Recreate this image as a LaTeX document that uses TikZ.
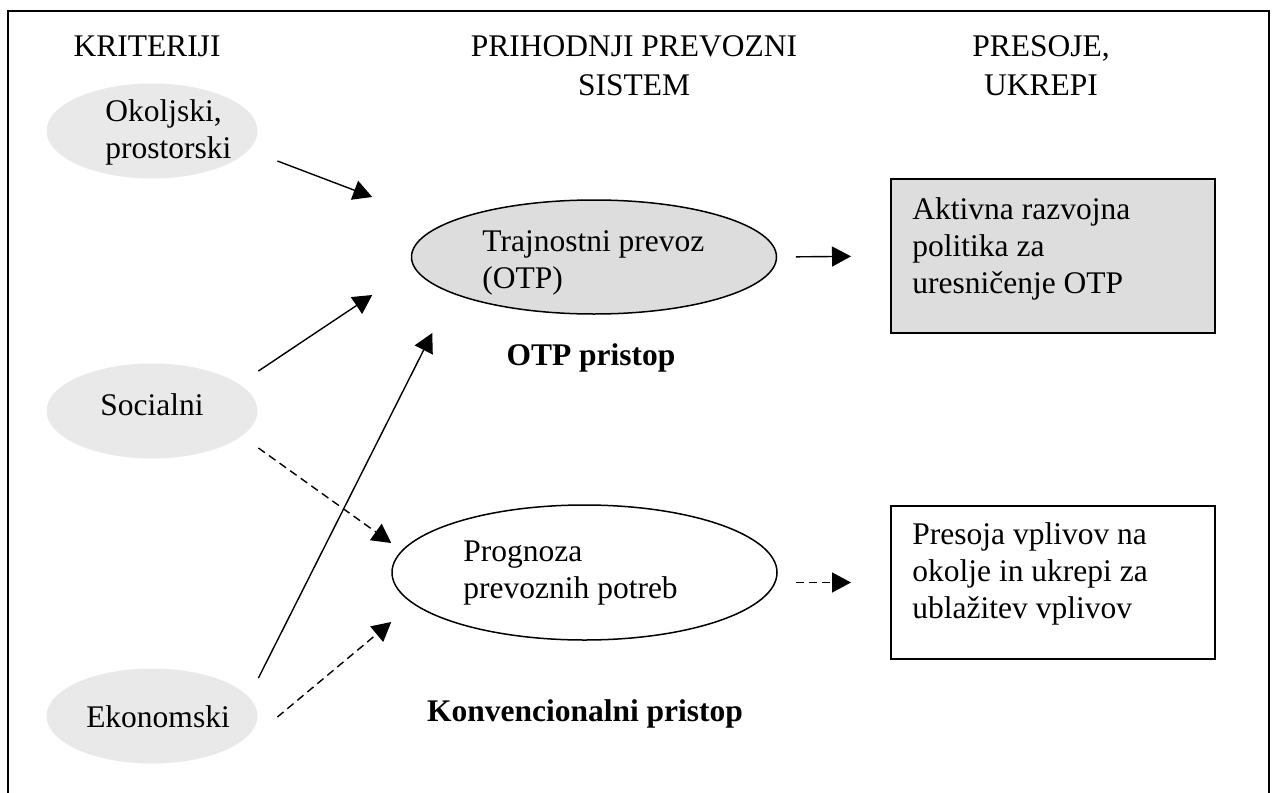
\documentclass[tikz,border=0pt]{standalone}
\usepackage{fontspec}
\setmainfont{Liberation Serif}
\usetikzlibrary{positioning,arrows.meta,shapes.geometric}
\definecolor{critfill}{RGB}{233,233,233}
\definecolor{otpfill}{RGB}{221,221,221}
\tikzset{
  crit/.style={ellipse,fill=critfill,minimum width=105.5pt,minimum height=47.5pt,inner sep=0pt},
  sys/.style={ellipse,draw,line width=0.75pt,inner sep=0pt},
  act/.style={draw,line width=1pt,minimum width=162pt,minimum height=77pt,inner sep=0pt},
  txt/.style={font=\fontsize{15.75}{18.5}\selectfont,align=left,inner sep=0pt,anchor=base west},
  hdr/.style={font=\fontsize{15.75}{19.5}\selectfont,align=center,inner sep=0pt,anchor=base},
  appr/.style={font=\fontsize{15.75}{18.5}\selectfont\bfseries,inner sep=0pt,anchor=base},
  arr/.style={-{Triangle[length=9.5pt,width=10pt]},line width=0.7pt},
  darr/.style={arr,dash pattern=on 4pt off 2.5pt},
}
\begin{document}
\begin{tikzpicture}[x=0.5pt,y=-0.5pt]
  \useasboundingbox (0,0) rectangle (1277,792);
  \draw[line width=1pt] (8,11) rectangle (1269,800);

  % column headers (base = last line)
  \node[hdr] (hcrit) at (147,57) {KRITERIJI};
  \node[hdr] (hsys) at (634,96) {PRIHODNJI PREVOZNI\\SISTEM};
  \node[hdr] (hact) at (1041,96) {PRESOJE,\\UKREPI};

  % criteria
  \node[crit] (oko) at (152,131) {};
  \node[txt] (okot) at (105,158) {Okoljski,\\prostorski};
  \node[crit] (soc) at (152,411) {};
  \node[txt,anchor=base] (soct) at (152,415) {Socialni};
  \node[crit] (eko) at (152,716) {};
  \node[txt,anchor=base] (ekot) at (158,727) {Ekonomski};

  % transport system
  \node[sys,fill=otpfill,minimum width=182.5pt,minimum height=57pt] (otp) at (594,257) {};
  \node[txt] (otpt) at (482,288) {Trajnostni prevoz\\(OTP)};
  \node[appr] (otpl) at (591,365) {OTP pristop};
  \node[sys,minimum width=192.5pt,minimum height=67.5pt] (prog) at (584.5,572.5) {};
  \node[txt] (progt) at (463,598) {Prognoza\\prevoznih potreb};
  \node[appr] (konv) at (585,721) {Konvencionalni pristop};

  % assessments, measures
  \node[act,fill=otpfill] (pol) at (1053,256) {};
  \node[txt] (polt) at (912,293) {Aktivna razvojna\\politika za\\uresničenje OTP};
  \node[act,minimum height=76.5pt] (eia) at (1053,582.5) {};
  \node[txt] (eiat) at (912,618) {Presoja vplivov na\\okolje in ukrepi za\\ublažitev vplivov};

  \draw[arr] ([shift={(19.5,30)}]oko.east) -- ([shift={(-38.5,-60)}]otp.west);
  \draw[arr] ([shift={(0.5,-40)}]soc.east) -- ([shift={(-38.5,38)}]otp.west);
  \draw[arr] ([shift={(0.5,-38)}]eko.east) -- ([shift={(21.5,76)}]otp.west);
  \draw[darr] ([shift={(0.5,37)}]soc.east) -- ([shift={(0,-29.5)}]prog.west);
  \draw[darr] ([shift={(19.5,1)}]eko.east) -- ([shift={(0,49.5)}]prog.west);
  \draw[arr,shorten <=9.25pt,shorten >=19.5pt] (otp.east) -- (pol.west);
  \draw[darr,shorten <=9pt,shorten >=19.5pt] (prog.east |- eia.west) -- (eia.west);
\end{tikzpicture}
\end{document}
